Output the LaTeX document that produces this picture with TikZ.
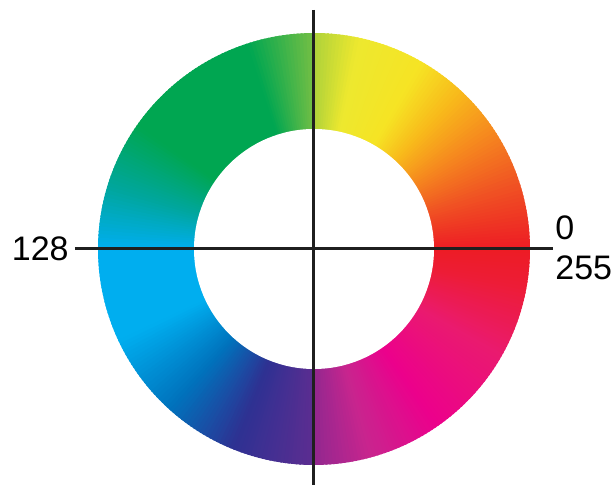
\documentclass[tikz,border=0pt]{standalone}
\usepackage{xcolor}
\usepackage{fontspec}
\setmainfont{Liberation Sans}
\usetikzlibrary{positioning}

% hue stops round the ring
\definecolor{hA}{HTML}{ED1C24}
\definecolor{hB}{HTML}{F05323}
\definecolor{hC}{HTML}{F68E1E}
\definecolor{hD}{HTML}{F8B91B}
\definecolor{hE}{HTML}{F6E424}
\definecolor{hF}{HTML}{EDE82F}
\definecolor{hG}{HTML}{AED23A}
\definecolor{hH}{HTML}{74BF44}
\definecolor{hI}{HTML}{00A651}
\definecolor{hJ}{HTML}{00A651}
\definecolor{hK}{HTML}{00A69C}
\definecolor{hL}{HTML}{00AEEF}
\definecolor{hM}{HTML}{00AEEF}
\definecolor{hN}{HTML}{0072BC}
\definecolor{hO}{HTML}{2E3192}
\definecolor{hQ}{HTML}{5C2D91}
\definecolor{hR}{HTML}{92278F}
\definecolor{hS}{HTML}{C8258E}
\definecolor{hT}{HTML}{EC008C}
\definecolor{hU}{HTML}{EA1A70}
\definecolor{hV}{HTML}{ED1C36}

\begin{document}
\begin{tikzpicture}[
    x=0.5pt, y=0.5pt,
    axis/.style={line width=1.5pt, draw=black!88},
    tick/.style={font=\fontsize{17}{20}\selectfont, inner sep=0pt}
]
\useasboundingbox (-314,-236) rectangle (298,249);
\def\ro{216}
% the ring, one degree at a time
\foreach \a/\b/\ca/\cb in {0/18/hA/hB, 18/35/hB/hC, 35/47/hC/hD, 47/60/hD/hE,
    60/78/hE/hF, 78/90/hF/hG, 90/108/hH/hI, 108/145/hI/hJ, 145/163/hJ/hK, 163/180/hK/hL,
    180/205/hL/hM, 205/228/hM/hN, 228/248/hN/hO, 248/270/hO/hQ, 270/285/hR/hS,
    285/305/hS/hT, 305/330/hT/hU, 330/350/hU/hV, 350/360/hV/hA}{
  \pgfmathtruncatemacro\n{\b-\a}
  \foreach \i in {1,...,\n}{
    \pgfmathsetmacro\p{100*(\i-0.5)/\n}
    \pgfmathsetmacro\s{\a+\i-1}
    \pgfmathsetmacro\e{\a+\i+0.5}
    \colorlet{wedge}{\cb!\p!\ca}
    \fill[wedge] (0,0) -- (\s:\ro) arc[start angle=\s, end angle=\e, radius=\ro] -- cycle;
  }
}
% hole
\fill[white] (0,0) circle[radius=120];

\coordinate (top) at (0,239);
\coordinate (bot) at (0,-240);
\coordinate (lft) at (-239,0);
\coordinate (rgt) at (239,0);
\node[tick, anchor=east] (l128) at (-245,0) {128};
\node[tick, anchor=west] (l0) at (241,21) {0};
\node[tick, anchor=west] (l255) at (241,-19) {255};
\draw[axis] (lft) -- (rgt);
\draw[axis] (top) -- (bot);
\end{tikzpicture}
\end{document}
